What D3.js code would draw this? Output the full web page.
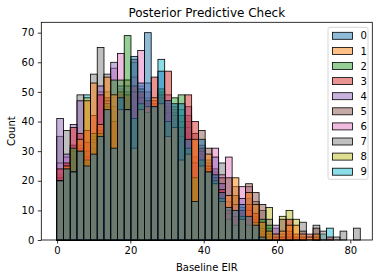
<!DOCTYPE html>
<html><head><meta charset="utf-8">
<script src="https://cdn.jsdelivr.net/npm/d3@7"></script>
<style>body{margin:0;background:#fff}svg{display:block}text{font-family:"DejaVu Sans",sans-serif;fill:#000}</style>
</head><body><svg id="c" width="382" height="278"></svg>
<script>
// ---- data ----
const seriesNames = ["0","1","2","3","4","5","6","7","8","9"];
const colors = ["#1f77b4","#ff7f0e","#2ca02c","#d62728","#9467bd","#8c564b","#e377c2","#7f7f7f","#bcbd22","#17becf"];
const binStart = -0.08, binWidth = 1.84;
const xTicks = [0,20,40,60,80];
const yTicks = [0,10,20,30,40,50,60,70];
const series0 = [20,24,23,30,25,29,35,44,31,48,44,62,53,70,45,57,47,46,46,34,13,34,23,22,16,11,10,12,8,5,1,0,0,0,0,0,0,0,0,0,0,0,0,0,0];
const series1 = [20,25,23,34,47,53,39,55,49,44,44,31,44,45,48,46,35,38,27,29,34,25,29,19,13,15,21,7,16,12,6,3,2,3,5,5,2,1,2,0,0,0,0,0,0];
const series2 = [20,24,31,30,27,36,36,46,54,54,69,41,46,43,45,51,40,48,49,31,21,27,23,20,14,7,5,8,5,6,7,5,0,0,0,0,0,0,0,0,0,0,0,0,0];
const series3 = [24,26,38,36,37,42,49,45,40,50,49,52,50,47,55,49,57,45,38,49,40,31,25,21,17,10,8,10,12,9,4,2,1,1,7,2,1,2,1,0,1,0,0,0,0];
const series4 = [41,29,39,47,26,33,52,47,60,52,52,50,48,53,47,48,49,42,35,45,26,30,24,28,19,9,12,14,10,4,2,1,5,0,1,0,0,0,0,0,0,0,0,0,0];
const series5 = [21,25,32,31,33,31,37,48,45,47,50,61,51,50,46,50,45,44,42,42,36,37,31,24,21,21,15,11,19,16,12,4,4,7,3,1,3,0,4,0,0,0,0,0,0];
const series6 = [26,28,30,32,28,34,50,45,58,63,54,55,64,46,47,47,43,40,33,38,28,29,26,31,22,28,9,18,18,7,3,1,0,2,2,0,0,0,0,0,0,0,0,0,0];
const series7 = [35,37,32,49,30,56,65,56,48,49,47,48,52,48,46,49,46,43,40,40,25,32,27,23,26,13,18,9,14,13,10,7,1,0,1,0,6,0,5,3,0,1,3,0,4];
const series8 = [22,24,28,30,48,35,38,50,38,51,54,45,47,44,45,46,38,39,30,30,19,26,23,19,15,8,6,7,9,8,5,11,2,8,10,7,0,0,0,0,0,0,0,0,0];
const series9 = [20,25,27,31,49,30,36,44,35,46,46,60,49,46,46,61,44,41,44,36,22,28,24,20,18,9,7,8,11,3,1,1,0,0,0,0,0,0,0,2,4,0,0,0,0];
const allSeries = [series0,series1,series2,series3,series4,series5,series6,series7,series8,series9];

// ---- layout ----
const L = 41.3, R = 372.3, T = 22.3, B = 240;
const x = d3.scaleLinear().domain([-4.3, 86.0]).range([L, R]);
const y = d3.scaleLinear().domain([0, 73.5]).range([B, T]);
const svg = d3.select("#c");

// bars: drawn in reverse hue order (9 first, 0 last)
const g = svg.append("g");
for (let k = allSeries.length - 1; k >= 0; k--) {
  const vals = allSeries[k];
  g.append("g").selectAll("rect")
    .data(vals.map((v, i) => ({v, i})).filter(d => d.v > 0))
    .join("rect")
    .attr("x", d => x(binStart + d.i * binWidth))
    .attr("width", d => x(binStart + (d.i + 1) * binWidth) - x(binStart + d.i * binWidth))
    .attr("y", d => y(d.v))
    .attr("height", d => y(0) - y(d.v))
    .attr("fill", colors[k]).attr("fill-opacity", 0.5)
    .attr("stroke", "#000").attr("stroke-width", 0.8);
}

// axes
const xa = svg.append("g").attr("transform", `translate(0,${B})`)
  .call(d3.axisBottom(x).tickValues(xTicks).tickSize(3.5).tickPadding(3.5).tickFormat(d3.format("d")));
const ya = svg.append("g").attr("transform", `translate(${L},0)`)
  .call(d3.axisLeft(y).tickValues(yTicks).tickSize(3.5).tickPadding(3.5).tickFormat(d3.format("d")));
[xa, ya].forEach(a => {
  a.select(".domain").remove();
  a.selectAll("line").attr("stroke", "#000").attr("stroke-width", 0.8);
  a.selectAll("text").attr("font-size", 10).attr("font-family", "DejaVu Sans").attr("fill", "#000");
});
// spines
svg.append("rect").attr("x", L).attr("y", T).attr("width", R - L).attr("height", B - T)
  .attr("fill", "none").attr("stroke", "#000").attr("stroke-width", 0.8);

// labels
svg.append("text").attr("x", (L + R) / 2).attr("y", 16.5).attr("text-anchor", "middle")
  .attr("font-size", 12).text("Posterior Predictive Check");
svg.append("text").attr("x", (L + R) / 2).attr("y", 270.5).attr("text-anchor", "middle")
  .attr("font-size", 10).text("Baseline EIR");
svg.append("text").attr("transform", `translate(15,${(T + B) / 2}) rotate(-90)`).attr("text-anchor", "middle")
  .attr("font-size", 10).text("Count");

// legend
const lg = svg.append("g");
const lgLeft = 328, lgRight = 368, lgTop = 27.3, rowH = 15.1;
const lgH = 152;
lg.append("rect").attr("x", lgLeft).attr("y", lgTop).attr("width", lgRight - lgLeft).attr("height", lgH)
  .attr("rx", 2).attr("fill", "#fff").attr("fill-opacity", 0.8).attr("stroke", "#ccc").attr("stroke-width", 0.8);
seriesNames.forEach((name, k) => {
  const cy = lgTop + 8.5 + k * rowH;
  lg.append("rect").attr("x", lgLeft + 4.5).attr("y", cy - 3.5).attr("width", 20).attr("height", 7)
    .attr("fill", colors[k]).attr("fill-opacity", 0.5).attr("stroke", "#000").attr("stroke-width", 0.8);
  lg.append("text").attr("x", lgLeft + 32.5).attr("y", cy + 3.6).attr("font-size", 10).text(name);
});
</script></body></html>
